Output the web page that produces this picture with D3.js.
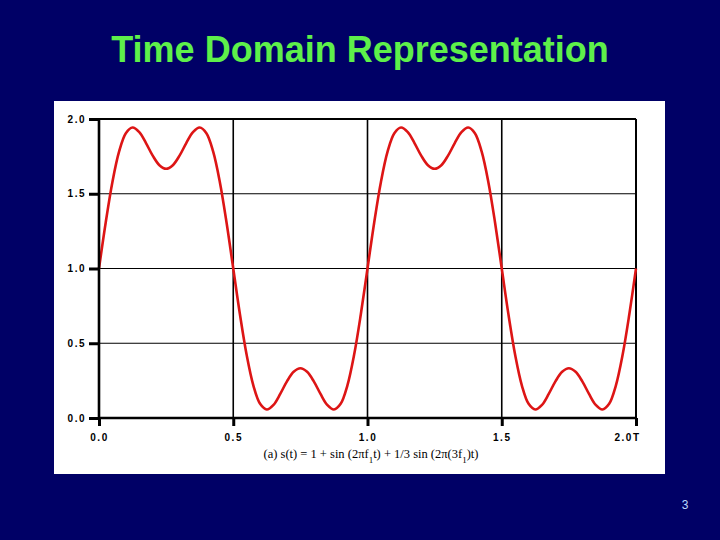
<!DOCTYPE html>
<html>
<head>
<meta charset="utf-8">
<script src="https://cdn.jsdelivr.net/npm/d3@7"></script>
<style>
  html, body { margin: 0; padding: 0; background: #000066; }
  svg { display: block; }
</style>
</head>
<body>
<svg id="chart" width="720" height="540"></svg>
<script>
// ---- data ----
const titleText = "Time Domain Representation";
const pageNumber = "3";
const xTickValues = [0, 0.5, 1.0, 1.5, 2.0];
const xTickLabels = ["0.0", "0.5", "1.0", "1.5", "2.0"];
const xUnit = "T";
const yTickValues = [0, 0.5, 1.0, 1.5, 2.0];
const yTickLabels = ["0.0", "0.5", "1.0", "1.5", "2.0"];
// sampled t (periods T) every 0.025
const tValues = [
  0.000,0.025,0.050,0.075,0.100,0.125,0.150,0.175,0.200,0.225,
  0.250,0.275,0.300,0.325,0.350,0.375,0.400,0.425,0.450,0.475,
  0.500,0.525,0.550,0.575,0.600,0.625,0.650,0.675,0.700,0.725,
  0.750,0.775,0.800,0.825,0.850,0.875,0.900,0.925,0.950,0.975,
  1.000,1.025,1.050,1.075,1.100,1.125,1.150,1.175,1.200,1.225,
  1.250,1.275,1.300,1.325,1.350,1.375,1.400,1.425,1.450,1.475,
  1.500,1.525,1.550,1.575,1.600,1.625,1.650,1.675,1.700,1.725,
  1.750,1.775,1.800,1.825,1.850,1.875,1.900,1.925,1.950,1.975,
  2.000
];
const sValues = [
  1.000,1.308,1.579,1.783,1.905,1.943,1.912,1.839,1.755,1.691,
  1.667,1.691,1.755,1.839,1.912,1.943,1.905,1.783,1.579,1.308,
  1.000,0.692,0.421,0.217,0.095,0.057,0.088,0.161,0.245,0.309,
  0.333,0.309,0.245,0.161,0.088,0.057,0.095,0.217,0.421,0.692,
  1.000,1.308,1.579,1.783,1.905,1.943,1.912,1.839,1.755,1.691,
  1.667,1.691,1.755,1.839,1.912,1.943,1.905,1.783,1.579,1.308,
  1.000,0.692,0.421,0.217,0.095,0.057,0.088,0.161,0.245,0.309,
  0.333,0.309,0.245,0.161,0.088,0.057,0.095,0.217,0.421,0.692,
  1.000
];

// ---- drawing ----
const svg = d3.select("#chart");

svg.append("rect").attr("x", 0).attr("y", 0).attr("width", 720).attr("height", 540).attr("fill", "#000066");

svg.append("text")
  .attr("x", 360).attr("y", 62)
  .attr("text-anchor", "middle")
  .attr("font-family", "'Liberation Sans', Arial, sans-serif")
  .attr("font-weight", "bold")
  .attr("font-size", 36)
  .attr("fill", "#5ef04a")
  .text(titleText);

// white panel
svg.append("rect").attr("x", 54).attr("y", 101).attr("width", 611).attr("height", 373).attr("fill", "#ffffff");

const x = d3.scaleLinear().domain([0, 2]).range([99, 636]);
const y = d3.scaleLinear().domain([0, 2]).range([418, 119]);

const g = svg.append("g");

// horizontal grid lines
g.selectAll("line.hgrid").data(yTickValues.filter(v => v > 0 && v < 2)).enter().append("line")
  .attr("x1", x(0)).attr("x2", x(2))
  .attr("y1", d => y(d)).attr("y2", d => y(d))
  .attr("stroke", "#000").attr("stroke-width", 1.2);

// vertical grid lines
g.selectAll("line.vgrid").data(xTickValues.filter(v => v > 0 && v < 2)).enter().append("line")
  .attr("x1", d => x(d)).attr("x2", d => x(d))
  .attr("y1", y(0)).attr("y2", y(2))
  .attr("stroke", "#000").attr("stroke-width", 1.6);

// frame: top and right
g.append("line").attr("x1", x(0)).attr("x2", x(2)).attr("y1", y(2)).attr("y2", y(2)).attr("stroke", "#000").attr("stroke-width", 2);
g.append("line").attr("x1", x(2)).attr("x2", x(2)).attr("y1", y(2)).attr("y2", y(0)).attr("stroke", "#000").attr("stroke-width", 2);

// curve
const line = d3.line()
  .x((d, i) => x(tValues[i]))
  .y(d => y(d))
  .curve(d3.curveCatmullRom.alpha(0.5));

g.append("path")
  .datum(sValues)
  .attr("d", line)
  .attr("fill", "none")
  .attr("stroke", "#dd1515")
  .attr("stroke-width", 2.6)
  .attr("stroke-linejoin", "round");

// axes
const lastIdx = xTickLabels.length - 1;
const xAxis = d3.axisBottom(x).tickValues(xTickValues)
  .tickFormat((d, i) => i === lastIdx ? xTickLabels[i] + xUnit : xTickLabels[i])
  .tickSize(8).tickPadding(8);
const yAxis = d3.axisLeft(y).tickValues(yTickValues).tickFormat((d, i) => yTickLabels[i]).tickSize(10).tickPadding(3);

const gx = svg.append("g").attr("transform", `translate(0,${y(0)})`).call(xAxis);
const gy = svg.append("g").attr("transform", `translate(${x(0)},0)`).call(yAxis);

[gx, gy].forEach(ax => {
  ax.select(".domain").attr("stroke", "#000").attr("stroke-width", 2.6);
  ax.selectAll(".tick line").attr("stroke", "#000").attr("stroke-width", 3);
  ax.selectAll(".tick text")
    .attr("fill", "#000")
    .attr("font-family", "'Liberation Sans', Arial, sans-serif")
    .attr("font-weight", "bold")
    .attr("font-size", 10)
    .attr("letter-spacing", 1.5);
});
gx.select(".domain").attr("d", `M${x(0)},0H${x(2)}`);
gy.select(".domain").attr("d", `M0,${y(0)}V${y(2)}`);
gx.selectAll(".tick text").filter((d, i) => i === lastIdx).attr("text-anchor", "end").attr("dx", 4);

// caption
const cap = svg.append("text")
  .attr("x", 371).attr("y", 458)
  .attr("text-anchor", "middle")
  .attr("font-family", "'Liberation Serif', 'Times New Roman', serif")
  .attr("font-size", 12.5)
  .attr("fill", "#000");
cap.append("tspan").text("(a) s(t) = 1 + sin (2πf");
cap.append("tspan").attr("baseline-shift", "sub").attr("font-size", 9).text("1");
cap.append("tspan").text("t) + 1/3 sin (2π(3f");
cap.append("tspan").attr("baseline-shift", "sub").attr("font-size", 9).text("1");
cap.append("tspan").text(")t)");

// page number
svg.append("text")
  .attr("x", 685).attr("y", 509)
  .attr("text-anchor", "middle")
  .attr("font-family", "'Liberation Sans', Arial, sans-serif")
  .attr("font-size", 12)
  .attr("fill", "#b8d8ff")
  .text(pageNumber);
</script>
</body>
</html>
